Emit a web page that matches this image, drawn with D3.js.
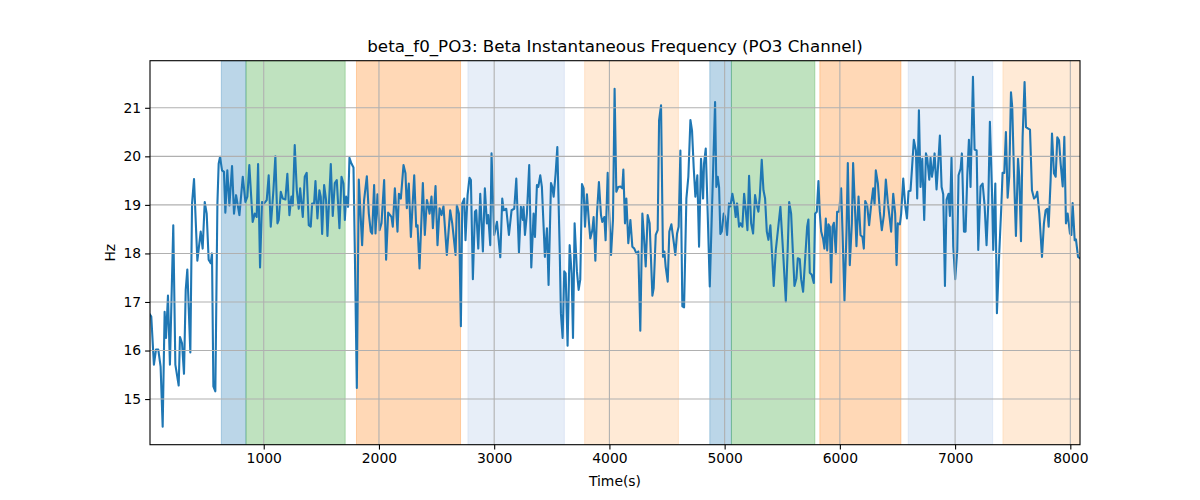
<!DOCTYPE html>
<html>
<head>
<meta charset="utf-8">
<script src="https://cdn.jsdelivr.net/npm/d3@7"></script>
<style>
  html, body { margin: 0; padding: 0; background: #fff; }
  svg { display: block; font-family: "DejaVu Sans", sans-serif; }
</style>
</head>
<body>
<svg id="chart" width="1200" height="500"></svg>
<script>
const title = "beta_f0_PO3: Beta Instantaneous Frequency (PO3 Channel)";
const xLabel = "Time(s)";
const yLabel = "Hz";
const xTicks = [1000, 2000, 3000, 4000, 5000, 6000, 7000, 8000];
const yTicks = [15, 16, 17, 18, 19, 20, 21];
const yDomain = [14.06, 21.97];

const spanStart = [632, 846, 1805, 2772, 3785, 4871, 5059, 5826, 6593, 7415];
const spanEnd   = [846, 1707, 2708, 3609, 4599, 5059, 5783, 6530, 7326, 8200];
const spanColor = ["#1f77b4", "#2ca02c", "#ff7f0e", "#aec7e8", "#ffbb78",
                   "#1f77b4", "#2ca02c", "#ff7f0e", "#aec7e8", "#ffbb78"];

const time = [
13,24,47,65,85,105,123,140,152,169,186,215,233,262,273,291,308,323,337,363,378,395,424,453,470,488,505,522,540,551,563,580,598,609,621,638,655,667,684,702,725,742,760,789,818,841,858,875,904,922,939,951,968,985,1003,1026,1043,1061,1084,1101,1119,1130,1148,1165,1188,1205,1223,1240,1252,1269,1287,1304,1316,1339,1356,1373,1391,1408,1420,1437,1449,1466,1483,1495,1507,1524,1541,1553,1582,1599,1617,1634,
1657,1675,1692,1704,1715,1732,1744,1761,1779,1790,1808,1825,1854,1871,1895,1912,1929,1941,1958,1970,1987,2005,2022,2045,2062,2080,2097,2109,2120,2138,2161,2173,2190,2213,2230,2242,2259,2277,2306,2323,2335,2352,2381,2398,2416,2427,2439,2456,2468,2491,2508,2526,2543,2560,2589,2618,2636,2665,2676,2694,2711,2723,2740,2751,2769,2786,2798,2815,2833,2844,2862,2879,2902,2919,2937,2948,2966,2977,3000,3024,3053,3070,3082,3105,3128,3151,3174,3192,3215,3232,3249,
3255,3267,3284,3304,3322,3342,3354,3371,3383,3400,3414,3429,3440,3458,3472,3493,3504,3516,3533,3548,3568,3579,3594,3608,3620,3637,3655,3672,3684,3698,3718,3733,3747,3762,3776,3788,3805,3823,3834,3852,3863,3878,3892,3909,3927,3938,3956,3967,3985,3996,4014,4031,4045,4060,4077,4095,4112,4121,4135,4147,4164,4182,4199,4216,4234,4251,4268,4286,4297,4315,4332,4349,4373,4384,4402,4419,4431,4448,4465,4477,4488,4506,4520,4538,4558,4572,4587,4601,4616,4633,4648,4668,4685,4703,4717,4732,4746,4763,4778,4795,4813,4821,4836,4853,4871,
4917,4928,4940,4952,4963,4975,4992,5004,5021,5038,5050,5067,5085,5096,5108,5125,5137,5154,5169,5183,5198,5212,5230,5247,5264,5276,5293,5305,5322,5337,5351,5366,5380,5397,5415,5426,5444,5467,5484,5507,5531,5548,5560,5577,5594,5606,5623,5635,5652,5664,5681,5699,5716,5727,5739,5756,5774,5785,5800,5814,5826,5838,5855,5866,5878,5890,5901,5913,5924,5936,5948,5965,5976,5994,6011,6023,6040,6058,6069,6086,6104,6115,6133,6144,6162,6179,6196,6208,6220,6237,6254,6272,6289,6301,6312,6330,6347,6364,6382,6399,6417,6434,6445,6463,6480,6492,6503,6521,
6532,6550,6567,6582,6596,6613,6625,6642,6660,6671,6686,6700,6715,6732,6747,6758,6776,6787,6799,6810,6822,6839,6851,6868,6883,6897,6912,6926,6943,6955,6969,6984,7001,7019,7030,7048,7059,7077,7091,7106,7120,7134,7155,7169,7187,7201,7221,7239,7256,7273,7288,7302,7320,7331,7349,7363,7383,7401,7412,7427,7441,7456,7470,7485,7496,7511,7528,7546,7557,7572,7586,7603,7615,7635,7650,7667,7685,7702,7713,7731,7754,7771,7786,7800,7812,7829,7841,7858,7873,7887,7902,7916,7934,7948,7962,7977,7997,8009,8020,8038,8049,8067,8084
];

const hz = [
16.74,16.70,15.71,16.02,16.02,15.67,14.43,16.80,16.26,17.13,15.71,18.58,15.71,15.28,16.28,16.15,15.52,17.25,17.67,15.96,19.03,19.53,17.85,18.45,18.10,19.06,18.82,17.87,17.80,18.00,15.26,15.16,19.03,19.85,19.99,19.71,19.68,18.84,19.71,18.99,19.80,18.82,19.20,18.79,19.58,19.06,19.17,19.82,18.65,18.82,18.75,19.84,17.71,19.06,19.03,19.10,19.61,18.55,19.30,20.00,18.62,18.69,19.27,19.13,19.11,19.64,18.79,19.17,18.99,20.23,19.30,18.92,19.34,18.75,19.58,19.66,18.58,18.55,19.03,19.03,19.49,18.72,19.30,19.17,18.40,19.41,19.10,18.36,19.84,18.77,19.45,19.51,
18.52,19.58,19.44,18.69,19.17,18.96,19.97,19.85,19.77,18.14,15.23,19.52,18.17,19.10,19.59,18.82,18.45,18.41,19.41,18.41,19.22,18.48,18.62,19.51,17.87,18.84,18.79,18.75,18.55,19.34,18.45,19.23,19.13,19.82,19.65,18.93,19.44,18.34,19.61,18.55,18.58,17.69,19.45,18.38,19.10,18.99,18.82,19.17,18.52,19.39,18.17,18.93,18.79,18.97,17.97,18.89,18.62,17.97,18.99,18.82,16.50,19.03,19.13,18.27,19.20,19.56,19.51,17.47,18.86,18.89,18.10,19.23,18.04,19.34,18.62,18.79,18.17,20.06,18.38,18.65,17.92,19.13,18.89,18.92,18.38,18.89,18.92,19.54,18.02,18.96,18.69,
18.96,18.38,18.82,19.82,17.71,18.82,18.34,19.41,19.37,19.61,19.37,18.55,17.93,18.52,17.35,19.45,19.37,19.17,19.64,20.19,18.14,16.77,16.26,17.63,17.59,16.10,18.17,17.59,16.26,18.62,17.63,17.25,17.46,19.43,19.34,18.55,19.22,18.62,18.31,18.48,18.75,17.85,18.82,19.47,18.79,18.65,18.75,18.27,19.66,18.96,17.97,18.69,21.39,19.27,19.37,19.38,19.34,19.73,18.62,19.13,18.21,18.69,18.14,18.10,18.00,18.04,16.41,18.82,18.45,17.73,18.79,18.62,17.13,17.28,18.38,18.48,20.74,21.05,17.93,18.04,17.73,17.42,18.45,18.60,18.24,17.97,18.41,18.55,20.12,16.91,16.89,19.13,19.58,20.75,20.53,19.75,19.17,19.61,18.14,19.95,19.13,19.85,20.16,18.82,17.32,
21.12,19.37,19.58,19.36,18.40,18.45,18.82,18.75,18.38,19.03,18.97,19.23,18.99,18.75,19.03,18.55,18.62,18.55,19.23,18.89,18.48,19.60,18.62,18.41,19.20,19.03,18.86,19.17,19.93,19.30,19.13,18.45,18.28,18.58,17.83,17.33,18.07,18.58,18.96,18.04,17.01,18.14,19.06,18.82,17.93,17.33,17.49,17.90,17.88,17.47,17.21,17.90,18.55,18.70,17.60,17.56,17.39,18.82,18.86,19.49,18.82,18.45,18.29,18.10,18.72,18.06,18.60,18.55,17.40,18.55,18.63,18.00,18.86,18.86,19.34,18.45,17.03,18.48,19.86,17.76,18.62,19.86,18.82,18.15,19.17,18.38,18.34,18.10,19.08,18.99,18.58,19.01,19.34,19.01,19.71,19.44,18.86,18.48,18.79,19.52,19.03,18.69,18.45,19.23,18.82,17.76,18.62,18.60,
18.82,19.54,18.99,18.72,19.28,19.29,19.71,20.34,20.12,19.13,20.95,19.37,19.95,18.69,20.06,19.97,19.52,19.97,19.58,19.75,20.06,19.32,19.75,20.43,19.37,19.22,17.33,19.11,19.23,18.77,19.97,18.14,17.47,18.07,19.61,19.75,20.06,18.45,18.45,19.61,20.34,19.37,21.64,20.14,20.12,18.07,19.38,19.44,18.99,18.17,19.03,20.71,19.30,18.07,19.44,16.77,18.00,18.96,19.66,19.66,20.50,19.15,19.58,21.32,21.01,19.65,18.36,19.95,19.58,18.25,20.40,21.53,20.60,20.57,20.55,19.30,19.13,19.17,19.27,18.82,17.93,18.62,18.89,18.92,18.55,19.51,20.47,19.65,19.58,20.39,20.33,19.85,19.38,20.40,18.62,18.82,18.41,18.38,19.04,18.27,18.29,17.93,17.90
];

const W = 1200, H = 500;
const margin = { left: 150, right: 120, top: 60.7, bottom: 55.3 };
const svg = d3.select("#chart");

const x = d3.scaleLinear().domain(d3.extent(time)).range([margin.left, W - margin.right]);
const y = d3.scaleLinear().domain(yDomain).range([H - margin.bottom, margin.top]);

svg.append("defs").append("clipPath").attr("id", "clip")
  .append("rect")
  .attr("x", margin.left).attr("y", margin.top)
  .attr("width", W - margin.left - margin.right)
  .attr("height", H - margin.top - margin.bottom);

const plot = svg.append("g").attr("clip-path", "url(#clip)");

// spans
plot.selectAll("rect.span")
  .data(spanStart.map((s, i) => ({ s, e: spanEnd[i], c: spanColor[i] })))
  .join("rect")
  .attr("class", "span")
  .attr("x", d => x(d.s))
  .attr("width", d => x(d.e) - x(d.s))
  .attr("y", margin.top)
  .attr("height", H - margin.top - margin.bottom)
  .attr("fill", d => d.c)
  .attr("fill-opacity", 0.3)
  .attr("stroke", d => d.c)
  .attr("stroke-opacity", 0.3)
  .attr("stroke-width", 1);

// grid
const grid = svg.append("g");
grid.selectAll("line.vx").data(xTicks).join("line")
  .attr("x1", d => x(d)).attr("x2", d => x(d))
  .attr("y1", margin.top).attr("y2", H - margin.bottom)
  .attr("stroke", "#b0b0b0").attr("stroke-width", 1.1);
grid.selectAll("line.hy").data(yTicks).join("line")
  .attr("y1", d => y(d)).attr("y2", d => y(d))
  .attr("x1", margin.left).attr("x2", W - margin.right)
  .attr("stroke", "#b0b0b0").attr("stroke-width", 1.1);

// line
const line = d3.line().x((d, i) => x(time[i])).y(d => y(d));
plot.append("path")
  .datum(hz)
  .attr("d", line)
  .attr("fill", "none")
  .attr("stroke", "#1f77b4")
  .attr("stroke-width", 2.1)
  .attr("stroke-linejoin", "round")
  .attr("stroke-linecap", "square");

// axes
const xAxis = d3.axisBottom(x).tickValues(xTicks).tickSize(4.9).tickPadding(4).tickFormat(d3.format("d"));
const yAxis = d3.axisLeft(y).tickValues(yTicks).tickSize(4.9).tickPadding(4).tickFormat(d3.format("d"));

const gx = svg.append("g").attr("transform", `translate(0,${H - margin.bottom})`).call(xAxis);
const gy = svg.append("g").attr("transform", `translate(${margin.left},0)`).call(yAxis);
[gx, gy].forEach(g => {
  g.select(".domain").remove();
  g.selectAll(".tick line").attr("stroke", "#000").attr("stroke-width", 1.1);
  g.selectAll(".tick text").attr("fill", "#000").style("font-size", "13.9px").style("font-family", "DejaVu Sans");
});

// frame
svg.append("rect")
  .attr("x", margin.left).attr("y", margin.top)
  .attr("width", W - margin.left - margin.right)
  .attr("height", H - margin.top - margin.bottom)
  .attr("fill", "none").attr("stroke", "#000").attr("stroke-width", 1.1);

// texts
svg.append("text")
  .attr("x", (margin.left + W - margin.right) / 2).attr("y", 52.3)
  .attr("text-anchor", "middle")
  .style("font-size", "16.7px").attr("fill", "#000")
  .text(title);

svg.append("text")
  .attr("x", (margin.left + W - margin.right) / 2).attr("y", 486)
  .attr("text-anchor", "middle")
  .style("font-size", "13.9px").attr("fill", "#000")
  .text(xLabel);

svg.append("text")
  .attr("transform", `translate(115,${(margin.top + H - margin.bottom) / 2}) rotate(-90)`)
  .attr("text-anchor", "middle")
  .style("font-size", "13.9px").attr("fill", "#000")
  .text(yLabel);
</script>
</body>
</html>
